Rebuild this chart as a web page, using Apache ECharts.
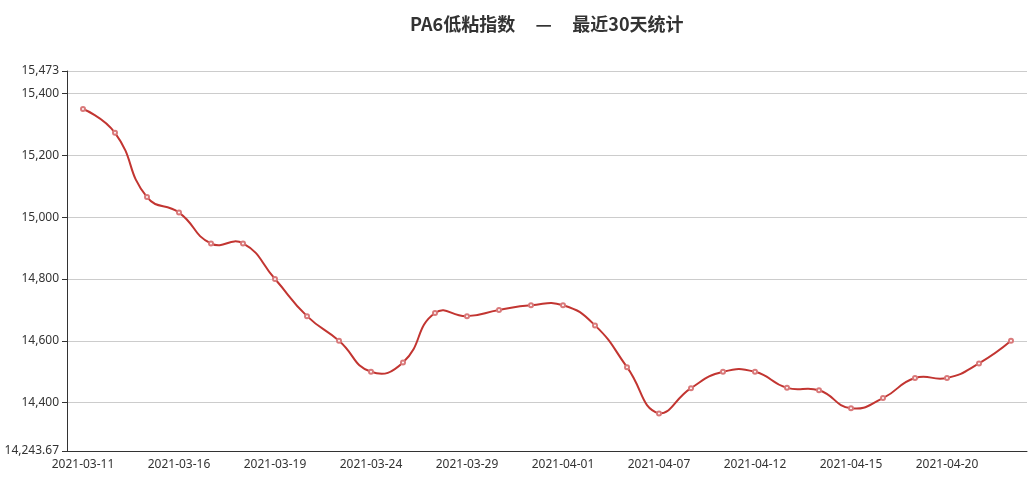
<!DOCTYPE html>
<html>
<head>
<meta charset="utf-8">
<script src="https://cdn.jsdelivr.net/npm/echarts@6/dist/echarts.min.js"></script>
<style>html,body{margin:0;padding:0;background:#fff;}#c{width:1032px;height:483px;}</style>
</head>
<body>
<div id="c"></div>
<script>
var titleText = 'PA6低粘指数     —     最近30天统计';
var dates = ['2021-03-11','2021-03-12','2021-03-15','2021-03-16','2021-03-17','2021-03-18','2021-03-19',
  '2021-03-22','2021-03-23','2021-03-24','2021-03-25','2021-03-26','2021-03-29','2021-03-30','2021-03-31',
  '2021-04-01','2021-04-02','2021-04-06','2021-04-07','2021-04-08','2021-04-09','2021-04-12','2021-04-13',
  '2021-04-14','2021-04-15','2021-04-16','2021-04-19','2021-04-20','2021-04-21','2021-04-22'];
var values = [15350,15273,15065,15015,14915,14915,14800,14680,14600,14500,14530,14690,14680,14700,14715,
  14715,14650,14515,14365,14447,14500,14500,14448,14440,14382,14415,14480,14480,14527,14600];
var yMin = 14243.67;
var yMax = 15473;

var SMOOTH = 0.5;

// Curve segment from point i-1 to point i, using the classic (uncapped) bezier smoothing
function renderSegment(params, api) {
  var i = params.dataIndex;
  if (i === 0) return null;
  var pts = values.map(function (v, j) { return api.coord([j, v]); });
  var minX = Infinity, minY = Infinity, maxX = -Infinity, maxY = -Infinity;
  pts.forEach(function (p) {
    minX = Math.min(minX, p[0]); maxX = Math.max(maxX, p[0]);
    minY = Math.min(minY, p[1]); maxY = Math.max(maxY, p[1]);
  });
  function clamp(p) {
    return [Math.min(Math.max(p[0], minX), maxX), Math.min(Math.max(p[1], minY), maxY)];
  }
  function ctrl(k) {
    var p = pts[k];
    var prev = pts[k - 1] || p;
    var next = pts[k + 1] || p;
    var vx = next[0] - prev[0], vy = next[1] - prev[1];
    var dPrev = Math.hypot(p[0] - prev[0], p[1] - prev[1]);
    var dNext = Math.hypot(next[0] - p[0], next[1] - p[1]);
    var r = (dPrev + dNext) ? dNext / (dPrev + dNext) : 0.5;
    var before = [p[0] - vx * SMOOTH * (1 - r), p[1] - vy * SMOOTH * (1 - r)];
    var after = [p[0] + vx * SMOOTH * r, p[1] + vy * SMOOTH * r];
    return [before, after];
  }
  var a = pts[i - 1], b = pts[i];
  var cp0 = (i - 1 === 0) ? a : ctrl(i - 1)[1];
  var cp1 = (i === pts.length - 1) ? b : ctrl(i)[0];
  cp0 = clamp(cp0); cp1 = clamp(cp1);
  var d = 'M' + a[0] + ',' + a[1] + ' C' + cp0[0] + ',' + cp0[1] + ' ' + cp1[0] + ',' + cp1[1] + ' ' + b[0] + ',' + b[1];
  return {
    type: 'path',
    shape: {pathData: d},
    style: {fill: null, stroke: '#c23531', lineWidth: 2}
  };
}

var chart = echarts.init(document.getElementById('c'));
chart.setOption({
  animation: false,
  title: {
    text: titleText,
    left: 405, top: 10,
    textStyle: {fontSize: 18, fontWeight: 'bold', color: '#333', fontFamily: '"Noto Sans CJK SC", sans-serif'}
  },
  grid: {left: 67, right: 5, top: 71, bottom: 32, containLabel: false},
  xAxis: {
    type: 'category',
    data: dates,
    boundaryGap: true,
    axisLine: {lineStyle: {color: '#333'}},
    axisTick: {interval: function (i) { return i % 3 === 2; }},
    axisLabel: {interval: 2, color: '#333', fontSize: 12, fontFamily: '"Noto Sans", sans-serif', margin: 8},
    splitLine: {show: false}
  },
  yAxis: {
    type: 'value',
    min: yMin,
    max: yMax,
    axisLine: {show: true, lineStyle: {color: '#333'}},
    axisTick: {show: true},
    axisLabel: {color: '#333', fontSize: 12, fontFamily: '"Noto Sans", sans-serif'},
    splitLine: {lineStyle: {color: '#ccc'}}
  },
  series: [{
    type: 'custom',
    renderItem: renderSegment,
    data: values.map(function (v, j) { return [j, v]; }),
    encode: {x: 0, y: 1},
    z: 2
  }, {
    type: 'line',
    data: values,
    symbol: 'emptyCircle',
    symbolSize: 4,
    lineStyle: {opacity: 0},
    itemStyle: {color: '#d9797a', borderWidth: 1.2},
    z: 3
  }]
});
</script>
</body>
</html>
